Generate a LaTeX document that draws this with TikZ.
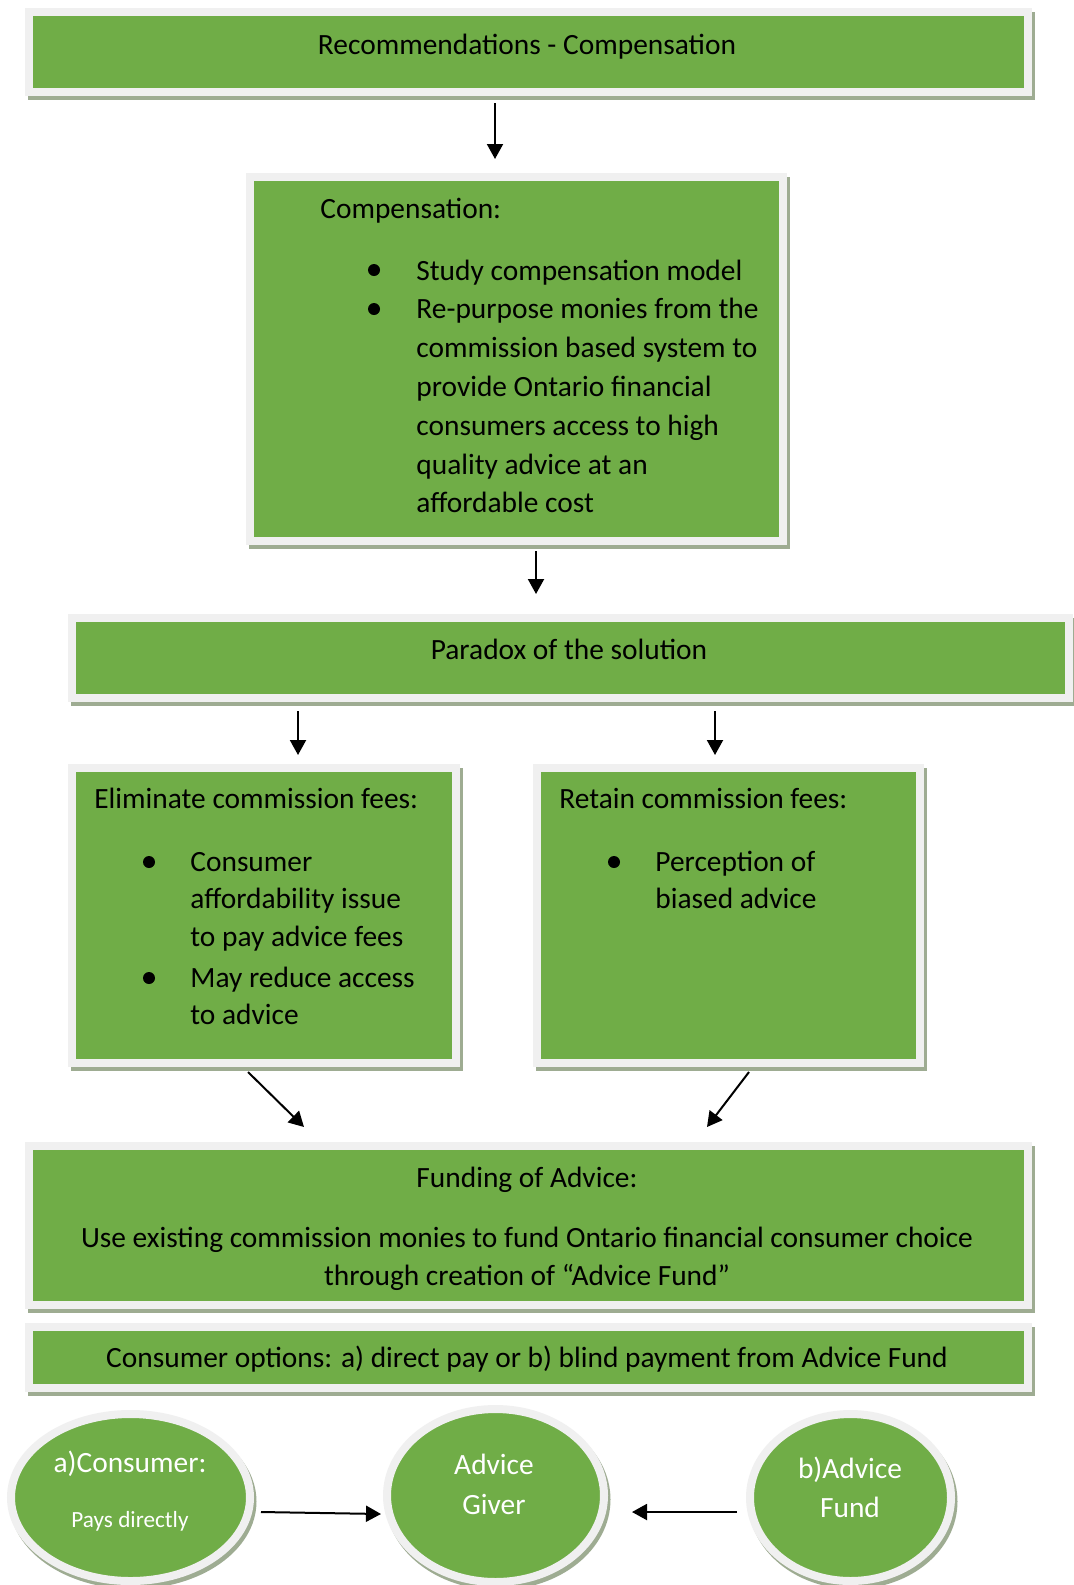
\documentclass[tikz,border=0pt]{standalone}
\usepackage{fontspec}
\setmainfont{Carlito}
\usetikzlibrary{arrows.meta,fit,shapes.geometric}

\definecolor{leafgreen}{RGB}{112,173,71}
\definecolor{paleframe}{RGB}{240,240,240}
\definecolor{shadowgrey}{RGB}{158,172,146}

\begin{document}
\begin{tikzpicture}[x=0.5pt,y=-0.5pt,
  boxskin/.style={fill=leafgreen, draw=paleframe, line width=4pt,
    preaction={fill=shadowgrey, draw=shadowgrey, line width=4pt,
      transform canvas={shift={(1.25pt,-2pt)}}}},
  panel/.style={boxskin, rectangle, inner sep=0pt},
  oval/.style={boxskin, ellipse, inner sep=0pt},
  txt/.style={font=\fontsize{14.7}{17.6}\selectfont, inner sep=0pt, text=black},
  ovaltxt/.style={txt, text=white},
  smalltxt/.style={ovaltxt, font=\fontsize{11.6}{14}\selectfont},
  bulletdot/.style={circle, fill=black, inner sep=0pt, minimum size=6pt},
  flow/.style={-{Triangle[length=7.5pt,width=8pt]}, line width=1pt, black}]

\path[use as bounding box, fill=white] (0,0) rectangle (1074,1585);

% ---- rectangular panels ----
\node[panel, fit={(29,12) (1028,92)}] (recs) {};
\node[panel, fit={(250,177) (783,541)}] (comp) {};
\node[panel, fit={(72,618) (1069,698)}] (paradox) {};
\node[panel, fit={(72,768) (456,1063)}] (elim) {};
\node[panel, fit={(537,768) (920,1063)}] (retain) {};
\node[panel, fit={(29,1146) (1028,1305)}] (funding) {};
\node[panel, fit={(29,1327) (1028,1388)}] (options) {};

% ---- oval nodes ----
\node[oval, minimum width=119.5pt, minimum height=83.5pt] (consumer) at (130.5,1497.5) {};
\node[oval, minimum width=108.5pt, minimum height=86.5pt] (giver) at (495.5,1495.5) {};
\node[oval, minimum width=100.5pt, minimum height=83.5pt] (fund) at (850.5,1497.5) {};

% ---- connector end points ----
\coordinate (a1s) at (495,103);  \coordinate (a1e) at (495,159);
\coordinate (a2s) at (536,551);  \coordinate (a2e) at (536,594);
\coordinate (a3s) at (298,711);  \coordinate (a3e) at (298,755);
\coordinate (a4s) at (715,711);  \coordinate (a4e) at (715,755);
\coordinate (a5s) at (248,1072); \coordinate (a5e) at (304,1127);
\coordinate (a6s) at (749,1072); \coordinate (a6e) at (707,1127);
\coordinate (a7s) at (261,1512); \coordinate (a7e) at (381,1514);
\coordinate (a8s) at (737,1512); \coordinate (a8e) at (632,1512);

\draw[flow] (a1s) -- (a1e);
\draw[flow] (a2s) -- (a2e);
\draw[flow] (a3s) -- (a3e);
\draw[flow] (a4s) -- (a4e);
\draw[flow] (a5s) -- (a5e);
\draw[flow] (a6s) -- (a6e);
\draw[flow] (a7s) -- (a7e);
\draw[flow] (a8s) -- (a8e);

% ---- panel texts ----
\node[txt, anchor=base] (recsT) at (527,54) {Recommendations - Compensation};

\node[txt, anchor=base west] (compT) at (320,218) {Compensation:};
\node[bulletdot] (compB1) at (374,270) {};
\node[txt, anchor=base west] (compI1) at (416,280) {Study compensation model};
\node[bulletdot] (compB2) at (374,309) {};
\foreach \line [count=\i] in {{Re-purpose monies from the},{commission based system to},
    {provide Ontario financial},{consumers access to high},
    {quality advice at an},{affordable cost}}
  \node[txt, anchor=base west] (compL\i) at (416,{318.8+38.8*(\i-1)}) {\line};

\node[txt, anchor=base] (paradoxT) at (569,659.5) {Paradox of the solution};

\node[txt, anchor=base west] (elimT) at (94,808.5) {Eliminate commission fees:};
\node[bulletdot] (elimB1) at (149,862) {};
\node[bulletdot] (elimB2) at (149,978) {};
\node[txt, anchor=base west] (elimL1) at (190,871.5) {Consumer};
\node[txt, anchor=base west] (elimL2) at (190,908.5) {affordability issue};
\node[txt, anchor=base west] (elimL3) at (190,946.5) {to pay advice fees};
\node[txt, anchor=base west] (elimL4) at (190,987.5) {May reduce access};
\node[txt, anchor=base west] (elimL5) at (190,1024.5) {to advice};

\node[txt, anchor=base west] (retainT) at (559,808.5) {Retain commission fees:};
\node[bulletdot] (retainB1) at (614,862) {};
\node[txt, anchor=base west] (retainL1) at (655,871.5) {Perception of};
\node[txt, anchor=base west] (retainL2) at (655,908.5) {biased advice};

\node[txt, anchor=base] (fundingT) at (527,1187.5) {Funding of Advice:};
\node[txt, anchor=base] (fundingL1) at (527,1247.5) {Use existing commission monies to fund Ontario financial consumer choice};
\node[txt, anchor=base] (fundingL2) at (527,1285.5) {through creation of “Advice Fund”};

\node[txt, anchor=base] (optionsT) at (527,1367.5) {Consumer options: a) direct pay or b) blind payment from Advice Fund};

% ---- oval texts ----
\node[ovaltxt, anchor=base] (consumerT) at (130,1472) {a)Consumer:};
\node[smalltxt, anchor=base] (consumerS) at (130,1527) {Pays directly};
\node[ovaltxt, anchor=base] (giverT1) at (494,1474) {Advice};
\node[ovaltxt, anchor=base] (giverT2) at (494,1514) {Giver};
\node[ovaltxt, anchor=base] (fundT1) at (850,1478) {b)Advice};
\node[ovaltxt, anchor=base] (fundT2) at (850,1517) {Fund};
\end{tikzpicture}
\end{document}
